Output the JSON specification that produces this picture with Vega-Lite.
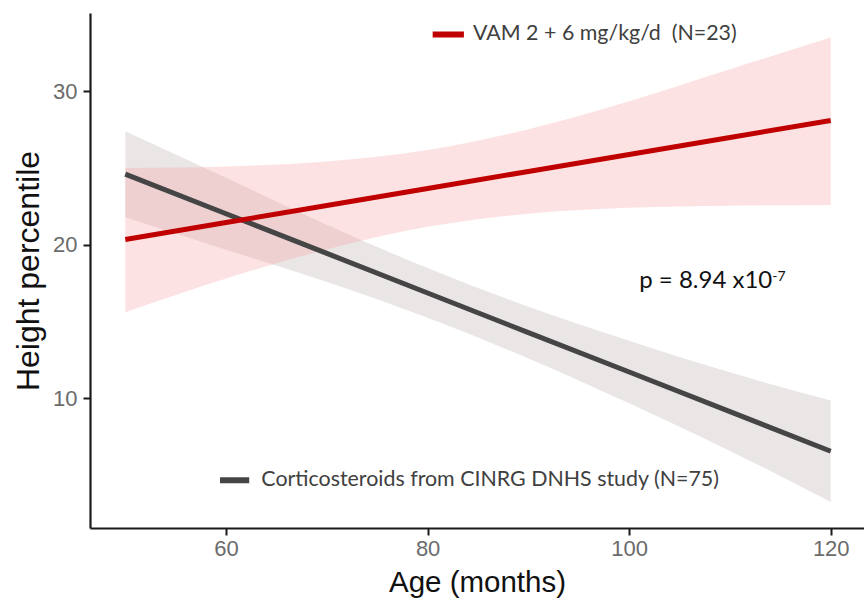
{
  "$schema": "https://vega.github.io/schema/vega-lite/v6.json",
  "width": 774,
  "height": 515,
  "autosize": {"type": "none"},
  "padding": {"left": 90, "top": 13, "right": 0, "bottom": 78},
  "background": "white",
  "config": {
    "view": {"stroke": null},
    "axis": {
      "grid": false,
      "domainColor": "#1a1a1a",
      "domainWidth": 2.2,
      "tickColor": "#1a1a1a",
      "tickWidth": 2,
      "tickSize": 7,
      "labelFont": "Liberation Sans",
      "labelFontSize": 22,
      "labelColor": "#6b6b6b",
      "titleFont": "Liberation Sans",
      "titleFontWeight": "normal",
      "titleColor": "#111111"
    }
  },
  "datasets": {
    "fits": [
      {"group": "Corticosteroids", "age": 50, "fit": 24.6, "lo": 21.8, "hi": 27.4},
      {"group": "Corticosteroids", "age": 60, "fit": 22.02, "lo": 19.68, "hi": 24.36},
      {"group": "Corticosteroids", "age": 70, "fit": 19.44, "lo": 17.57, "hi": 21.31},
      {"group": "Corticosteroids", "age": 80, "fit": 16.86, "lo": 15.24, "hi": 18.48},
      {"group": "Corticosteroids", "age": 90, "fit": 14.28, "lo": 12.6, "hi": 15.96},
      {"group": "Corticosteroids", "age": 100, "fit": 11.71, "lo": 9.67, "hi": 13.75},
      {"group": "Corticosteroids", "age": 110, "fit": 9.13, "lo": 6.57, "hi": 11.69},
      {"group": "Corticosteroids", "age": 120, "fit": 6.55, "lo": 3.25, "hi": 9.85},
      {"group": "VAM", "age": 50, "fit": 20.34, "lo": 15.6, "hi": 25.0},
      {"group": "VAM", "age": 60, "fit": 21.45, "lo": 17.8, "hi": 25.1},
      {"group": "VAM", "age": 70, "fit": 22.56, "lo": 19.7, "hi": 25.42},
      {"group": "VAM", "age": 80, "fit": 23.67, "lo": 21.17, "hi": 26.17},
      {"group": "VAM", "age": 90, "fit": 24.78, "lo": 22.03, "hi": 27.53},
      {"group": "VAM", "age": 100, "fit": 25.88, "lo": 22.41, "hi": 29.35},
      {"group": "VAM", "age": 110, "fit": 26.99, "lo": 22.55, "hi": 31.43},
      {"group": "VAM", "age": 120, "fit": 28.1, "lo": 22.6, "hi": 33.5}
    ],
    "keys": [
      {"group": "VAM", "x1": 80.5, "x2": 83.6, "y": 33.7, "tx": 84.5, "label": "VAM 2 + 6 mg/kg/d \u00a0(N=23)"},
      {"group": "Corticosteroids", "x1": 59.4, "x2": 62.3, "y": 4.66, "tx": 63.5, "label": "Corticosteroids from CINRG DNHS study (N=75)"}
    ],
    "notes": [
      {"kind": "main", "x": 101.0, "y": 17.17, "label": "p = 8.94 x10"},
      {"kind": "sup", "x": 114.2, "y": 17.62, "label": "-7"}
    ]
  },
  "layer": [
    {
      "data": {"name": "fits"},
      "transform": [{"filter": "datum.group === 'Corticosteroids'"}],
      "mark": {"type": "area", "interpolate": "monotone", "color": "#d9d2d2", "opacity": 0.55},
      "encoding": {
        "x": {"field": "age", "type": "quantitative", "scale": {"domain": [46.5, 123.3], "nice": false, "zero": false},
              "axis": {"values": [60, 80, 100, 120], "title": "Age (months)", "labelPadding": 3, "titlePadding": 9, "titleFontSize": 29.5}},
        "y": {"field": "lo", "type": "quantitative", "scale": {"domain": [1.55, 35.1], "nice": false, "zero": false},
              "axis": {"values": [10, 20, 30], "title": "Height percentile", "labelPadding": 6, "titlePadding": 7, "titleFontSize": 32}},
        "y2": {"field": "hi"}
      }
    },
    {
      "data": {"name": "fits"},
      "transform": [{"filter": "datum.group === 'VAM'"}],
      "mark": {"type": "area", "interpolate": "monotone", "color": "#f89ea2", "opacity": 0.3},
      "encoding": {
        "x": {"field": "age", "type": "quantitative"},
        "y": {"field": "lo", "type": "quantitative"},
        "y2": {"field": "hi"}
      }
    },
    {
      "data": {"name": "fits"},
      "mark": {"type": "line", "strokeWidth": 5, "strokeCap": "butt"},
      "encoding": {
        "x": {"field": "age", "type": "quantitative"},
        "y": {"field": "fit", "type": "quantitative"},
        "stroke": {"field": "group", "type": "nominal", "scale": {"domain": ["Corticosteroids", "VAM"], "range": ["#454545", "#c00000"]}, "legend": null}
      }
    },
    {
      "data": {"name": "keys"},
      "mark": {"type": "rule", "strokeWidth": 6},
      "encoding": {
        "x": {"field": "x1", "type": "quantitative"},
        "x2": {"field": "x2"},
        "y": {"field": "y", "type": "quantitative"},
        "stroke": {"field": "group", "type": "nominal", "legend": null}
      }
    },
    {
      "data": {"name": "keys"},
      "mark": {"type": "text", "align": "left", "baseline": "middle", "font": "Lato", "fontSize": 21.4, "color": "#404040"},
      "encoding": {
        "x": {"field": "tx", "type": "quantitative"},
        "y": {"field": "y", "type": "quantitative"},
        "text": {"field": "label"}
      }
    },
    {
      "data": {"name": "notes"},
      "transform": [{"filter": "datum.kind === 'main'"}],
      "mark": {"type": "text", "align": "left", "baseline": "alphabetic", "font": "Lato", "fontSize": 24, "color": "#111111"},
      "encoding": {
        "x": {"field": "x", "type": "quantitative"},
        "y": {"field": "y", "type": "quantitative"},
        "text": {"field": "label"}
      }
    },
    {
      "data": {"name": "notes"},
      "transform": [{"filter": "datum.kind === 'sup'"}],
      "mark": {"type": "text", "align": "left", "baseline": "alphabetic", "font": "Lato", "fontSize": 14, "color": "#111111"},
      "encoding": {
        "x": {"field": "x", "type": "quantitative"},
        "y": {"field": "y", "type": "quantitative"},
        "text": {"field": "label"}
      }
    }
  ]
}
